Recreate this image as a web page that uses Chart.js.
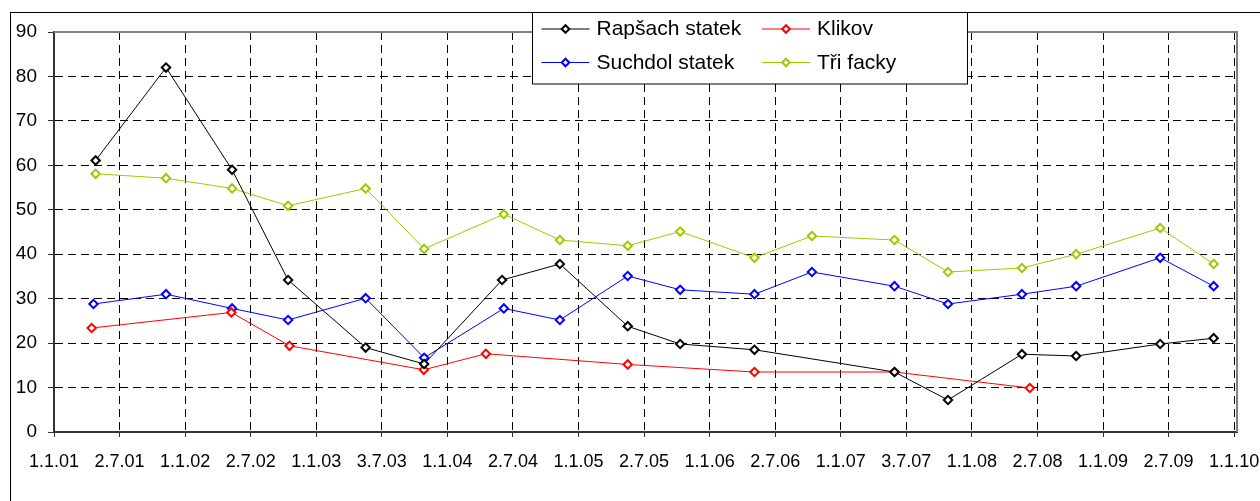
<!DOCTYPE html>
<html>
<head>
<meta charset="utf-8">
<script src="https://cdn.jsdelivr.net/npm/chart.js@4/dist/chart.umd.min.js"></script>
<style>
  html, body { margin: 0; padding: 0; background: #ffffff; }
  #wrap { width: 1260px; height: 501px; position: relative; }
</style>
</head>
<body>
<div id="wrap"><canvas id="chart" width="1260" height="501"></canvas></div>
<script>
// Sampling dates and measured values per site
const rapsachDates = ['2001-04-27','2001-11-09','2002-05-12','2002-10-15','2003-05-19','2003-10-29','2004-06-02','2004-11-10','2005-05-18','2005-10-11','2006-05-06','2007-05-31','2007-10-27','2008-05-20','2008-10-18','2009-06-09','2009-11-05'];
const rapsachValues = [61.1, 82, 59, 34.2, 19, 15.3, 34.2, 37.8, 23.8, 19.8, 18.5, 13.5, 7.2, 17.5, 17.1, 19.8, 21.1];

const klikovDates = ['2001-04-16','2002-05-10','2002-10-19','2003-10-28','2004-04-18','2005-05-18','2006-05-06','2007-05-31','2008-06-11'];
const klikovValues = [23.4, 26.9, 19.4, 14, 17.6, 15.2, 13.5, 13.5, 9.9];

const suchdolDates = ['2001-04-21','2001-11-09','2002-05-12','2002-10-15','2003-05-19','2003-10-29','2004-06-07','2004-11-10','2005-05-18','2005-10-11','2006-05-06','2006-10-13','2007-05-31','2007-10-27','2008-05-20','2008-10-18','2009-06-09','2009-11-05'];
const suchdolValues = [28.8, 31, 27.8, 25.2, 30.1, 16.7, 27.8, 25.2, 35.1, 32, 31, 36, 32.8, 28.8, 31, 32.8, 39.2, 32.8];

const triFackyDates = ['2001-04-27','2001-11-09','2002-05-12','2002-10-15','2003-05-19','2003-10-29','2004-06-07','2004-11-10','2005-05-18','2005-10-11','2006-05-06','2006-10-13','2007-05-31','2007-10-27','2008-05-20','2008-10-18','2009-06-09','2009-11-05'];
const triFackyValues = [58.1, 57.1, 54.8, 50.9, 54.8, 41.2, 49, 43.2, 41.9, 45.1, 39.2, 44.1, 43.2, 36, 36.9, 40, 45.9, 37.8];

// Date axis: evenly spaced labels from the first to the last date
const axisStart = '2001-01-01';
const axisEnd = '2010-01-01';
const xTickLabels = ['1.1.01','2.7.01','1.1.02','2.7.02','1.1.03','3.7.03','1.1.04','2.7.04','1.1.05','2.7.05','1.1.06','2.7.06','1.1.07','3.7.07','1.1.08','2.7.08','1.1.09','2.7.09','1.1.10'];

const DAY = 86400000;
const toMs = s => { const p = s.split('-').map(Number); return Date.UTC(p[0], p[1] - 1, p[2]); };
const t0 = toMs(axisStart);
const toDay = s => (toMs(s) - t0) / DAY;
const spanDays = toDay(axisEnd);
const points = (dates, values) => dates.map((d, i) => ({ x: toDay(d), y: values[i] }));

const FONT = "'Liberation Sans', Arial, sans-serif";

function series(label, color, dates, values) {
  return {
    label,
    data: points(dates, values),
    borderColor: color,
    backgroundColor: '#ffffff',
    borderWidth: 1,
    pointStyle: 'rectRot',
    pointRadius: 4.2,
    pointHoverRadius: 4.2,
    pointBorderWidth: 2,
    pointBorderColor: color,
    pointBackgroundColor: '#ffffff',
    tension: 0,
    fill: false
  };
}

const datasets = [
  series('Rapšach statek', '#000000', rapsachDates, rapsachValues),
  series('Klikov', '#ff0000', klikovDates, klikovValues),
  series('Suchdol statek', '#0000ff', suchdolDates, suchdolValues),
  series('Tři facky', '#99cc00', triFackyDates, triFackyValues)
];

// Outer frame, plot-area border and the boxed two-column legend
const decorations = {
  id: 'decorations',
  beforeDatasetsDraw(chart) {
    const { ctx, chartArea: a } = chart;
    ctx.save();
    ctx.strokeStyle = '#808080';
    ctx.lineWidth = 2;
    ctx.beginPath();
    ctx.moveTo(a.left, a.top);
    ctx.lineTo(a.right, a.top);
    ctx.lineTo(a.right, a.bottom);
    ctx.stroke();
    ctx.restore();
  },
  afterDraw(chart) {
    const { ctx } = chart;
    ctx.save();
    // frame around the whole chart
    ctx.strokeStyle = '#000000';
    ctx.lineWidth = 1;
    ctx.strokeRect(10.5, 12.5, 1400, 600);

    // legend box
    const box = { x: 532.5, y: 12.5, w: 435, h: 71.5 };
    ctx.fillStyle = '#ffffff';
    ctx.fillRect(box.x, box.y, box.w, box.h);
    ctx.strokeRect(box.x, box.y, box.w, box.h);

    const colX = [541.5, 762];
    const rowY = [28.5, 62];
    ctx.font = '21px ' + FONT;
    ctx.textBaseline = 'middle';
    ctx.textAlign = 'left';
    chart.data.datasets.forEach((ds, i) => {
      const x = colX[i % 2];
      const y = rowY[Math.floor(i / 2)];
      ctx.strokeStyle = ds.borderColor;
      ctx.lineWidth = 1;
      ctx.beginPath();
      ctx.moveTo(x, y + 0.5);
      ctx.lineTo(x + 48, y + 0.5);
      ctx.stroke();
      const mx = x + 24, my = y + 0.5, r = 3.8;
      ctx.fillStyle = '#ffffff';
      ctx.lineWidth = 2;
      ctx.beginPath();
      ctx.moveTo(mx, my - r);
      ctx.lineTo(mx + r, my);
      ctx.lineTo(mx, my + r);
      ctx.lineTo(mx - r, my);
      ctx.closePath();
      ctx.fill();
      ctx.stroke();
      ctx.fillStyle = '#000000';
      ctx.fillText(ds.label, x + 55, y + 1);
    });
    ctx.restore();
  }
};

new Chart(document.getElementById('chart'), {
  type: 'line',
  data: { datasets },
  plugins: [decorations],
  options: {
    responsive: false,
    animation: false,
    devicePixelRatio: 1,
    layout: { padding: { top: 32, right: 23, left: 0, bottom: 0 } },
    plugins: {
      legend: { display: false },
      tooltip: { enabled: false }
    },
    scales: {
      x: {
        type: 'linear',
        min: 0,
        max: spanDays + 8,
        afterBuildTicks(scale) {
          const n = xTickLabels.length;
          scale.ticks = xTickLabels.map((_, i) => ({ value: i * spanDays / (n - 1) }));
        },
        afterFit(scale) {
          scale.height = 69;
          scale.paddingLeft = 0;
          scale.paddingRight = 0;
        },
        ticks: {
          autoSkip: false,
          maxRotation: 0,
          padding: 14,
          color: '#000000',
          font: { family: FONT, size: 18 },
          callback: (v, i) => xTickLabels[i]
        },
        grid: {
          color: '#000000',
          lineWidth: 1,
          drawTicks: true,
          tickLength: 5,
          tickColor: '#333333',
          tickBorderDash: []
        },
        border: { display: true, color: '#333333', width: 2, dash: [8, 5] }
      },
      y: {
        min: 0,
        max: 90,
        afterFit(scale) {
          scale.width = 54;
          scale.paddingTop = 0;
          scale.paddingBottom = 0;
        },
        ticks: {
          stepSize: 10,
          padding: 11,
          color: '#000000',
          font: { family: FONT, size: 19 }
        },
        grid: {
          color: '#000000',
          lineWidth: 1,
          drawTicks: true,
          tickLength: 6,
          tickColor: '#333333',
          tickBorderDash: []
        },
        border: { display: true, color: '#333333', width: 2, dash: [8, 5] }
      }
    }
  }
});
</script>
</body>
</html>
